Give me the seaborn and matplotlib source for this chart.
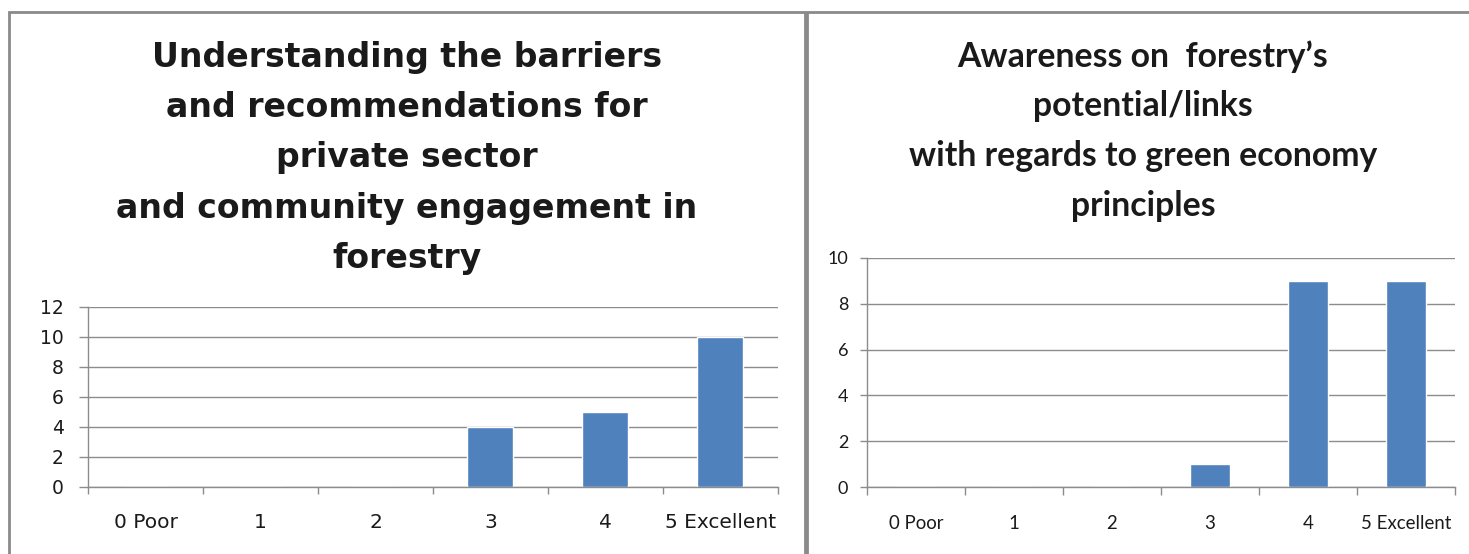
import matplotlib
matplotlib.use("Agg")
import matplotlib.pyplot as plt
from matplotlib.patches import Rectangle
import seaborn as sns
import pandas as pd

sns.set_theme(style="white")
plt.rcParams['font.family'] = ['DejaVu Sans']

categories = ["0 Poor", "1", "2", "3", "4", "5 Excellent"]
barriers_counts = [0, 0, 0, 4, 5, 10]
awareness_counts = [0, 0, 0, 1, 9, 9]

title_left = ["Understanding the barriers", "and recommendations for",
              "private sector", "and community engagement in", "forestry"]
title_right = ["Awareness on  forestry\u2019s", "potential/links",
               "with regards to green economy", "principles"]

BAR = "#4F81BD"
GRID = "#8C8C8C"
INK = "#1a1a1a"

fig = plt.figure(figsize=(14.69, 5.54), dpi=100)
W, H = 1469, 554


def fx(px):
    return px / W


def fy(py):
    return 1 - py / H


# panel frames
for x0, x1 in [(9, 805), (807, 1520)]:
    fig.patches.append(Rectangle((fx(x0), fy(600)), fx(x1) - fx(x0), fy(12) - fy(600),
                                 transform=fig.transFigure, fill=False,
                                 edgecolor="#8a8a8a", linewidth=2))


def draw_panel(rect, values, ymax, family, ylabsize, xlabsize, ypad, xpad, ytick, xtick):
    ax = fig.add_axes(rect)
    df = pd.DataFrame({"rating": categories, "count": values})
    sns.barplot(data=df, x="rating", y="count", color=BAR, width=0.4,
                saturation=1, ax=ax)
    ax.set_ylim(0, ymax)
    ax.set_xlim(-0.5, len(categories) - 0.5)
    ax.set_yticks(range(0, ymax + 1, 2))
    ax.yaxis.grid(True, color=GRID, linewidth=1)
    ax.set_axisbelow(True)
    ax.set_xlabel("")
    ax.set_ylabel("")
    for s in ["top", "right"]:
        ax.spines[s].set_visible(False)
    for s in ["left", "bottom"]:
        ax.spines[s].set_color(GRID)
        ax.spines[s].set_linewidth(1)
    ax.set_xticks([i - 0.5 for i in range(len(categories) + 1)], minor=True)
    ax.tick_params(axis="x", which="minor", length=xtick, color=GRID, width=1,
                   direction="out", bottom=True)
    ax.tick_params(axis="x", which="major", length=0, pad=xpad,
                   labelsize=xlabsize, labelcolor=INK)
    ax.tick_params(axis="y", which="major", length=ytick, color=GRID, width=1,
                   direction="out", left=True, labelsize=ylabsize,
                   labelcolor=INK, pad=ypad)
    for lab in ax.get_xticklabels() + ax.get_yticklabels():
        lab.set_family(family)
    return ax


ax1 = draw_panel([fx(88), fy(487), fx(778) - fx(88), fy(307) - fy(487)],
                 barriers_counts, 12, "DejaVu Sans", 13.5, 14.5, 11, 19, 6.5, 5)
ax2 = draw_panel([fx(867), fy(487), fx(1455) - fx(867), fy(258) - fy(487)],
                 awareness_counts, 10, "Lato", 13, 13.4, 8.5, 20, 5, 5.5)


def draw_title(lines, cx, baseline0, step, family, target_width, size0):
    texts = [fig.text(fx(cx), fy(baseline0 + i * step), line, ha="center",
                      va="baseline", fontsize=size0, fontweight="bold",
                      family=family, color=INK)
             for i, line in enumerate(lines)]
    renderer = fig.canvas.get_renderer()
    widest = max(t.get_window_extent(renderer).width for t in texts)
    size = size0 * target_width / widest
    for t in texts:
        t.set_fontsize(size)


draw_title(title_left, 407, 66.5, 50.4, "DejaVu Sans", 580, 22)
draw_title(title_right, 1143, 67, 49.5, "Lato", 468, 24)

fig.savefig("out.png", dpi=100)
